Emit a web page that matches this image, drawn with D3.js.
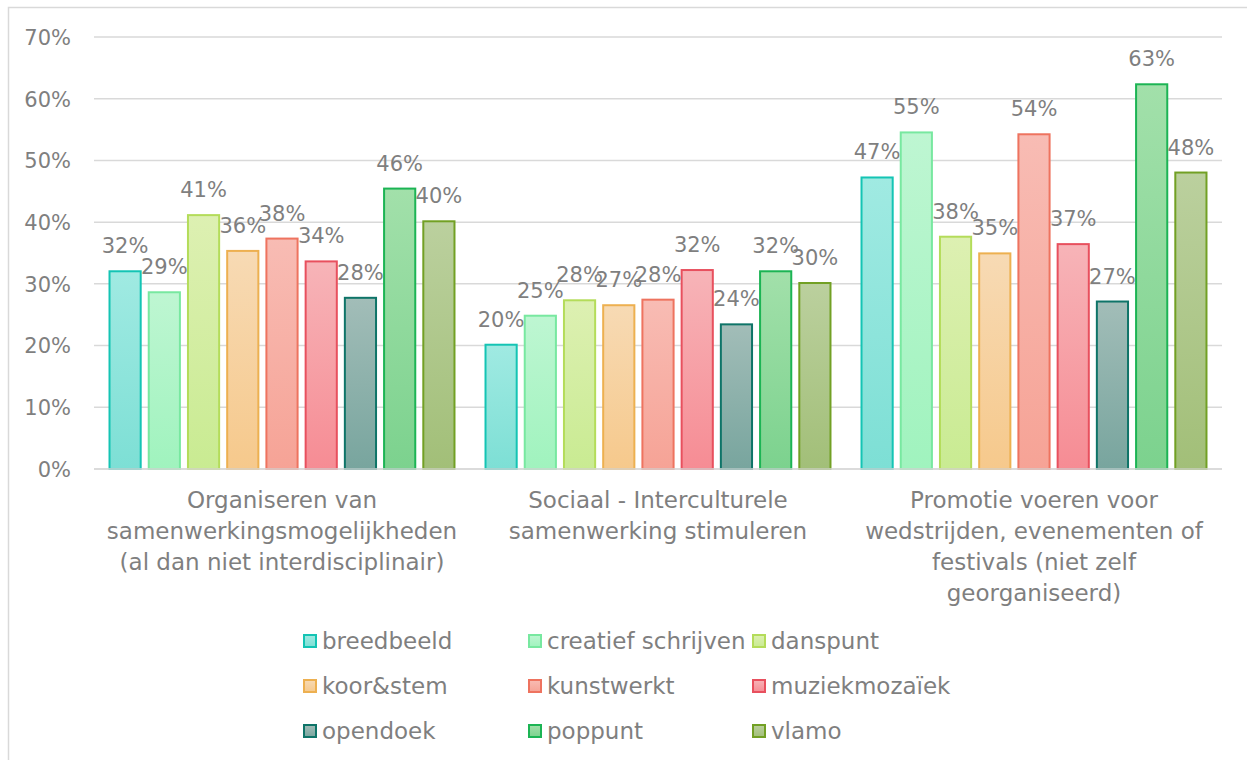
<!DOCTYPE html>
<html>
<head>
<meta charset="utf-8">
<script src="https://cdn.jsdelivr.net/npm/d3@7/dist/d3.min.js"></script>
<style>
html,body{margin:0;padding:0;background:#fff;}
svg{display:block;}
text{font-family:"DejaVu Sans",sans-serif;fill:#7f7f7f;}
</style>
</head>
<body>
<svg id="chart" width="1247" height="760"></svg>
<script>
const categories = ["cat1","cat2","cat3"];
const categoryLines = [
  ["Organiseren van","samenwerkingsmogelijkheden","(al dan niet interdisciplinair)"],
  ["Sociaal - Interculturele","samenwerking stimuleren"],
  ["Promotie voeren voor","wedstrijden, evenementen of","festivals (niet zelf","georganiseerd)"]
];
const seriesNames = ["breedbeeld","creatief schrijven","danspunt","koor&stem","kunstwerkt","muziekmozaïek","opendoek","poppunt","vlamo"];
const breedbeeld = [0.322, 0.203, 0.474];
const creatiefSchrijven = [0.288, 0.250, 0.547];
const danspunt = [0.413, 0.275, 0.378];
const koorStem = [0.355, 0.267, 0.351];
const kunstwerkt = [0.375, 0.276, 0.544];
const muziekmozaiek = [0.338, 0.324, 0.366];
const opendoek = [0.279, 0.236, 0.273];
const poppunt = [0.456, 0.322, 0.625];
const vlamo = [0.403, 0.303, 0.482];
const seriesValues = [breedbeeld, creatiefSchrijven, danspunt, koorStem, kunstwerkt, muziekmozaiek, opendoek, poppunt, vlamo];
const yTicks = [0, 0.1, 0.2, 0.3, 0.4, 0.5, 0.6, 0.7];
const strokeColors = ["#14C4B4","#78E8A0","#B4DC5A","#EDB050","#EE735F","#E8505E","#0E7468","#1CB454","#72A024"];
const topColors = ["#A0EAE2","#BEF6D2","#DDF0B2","#F7DAB4","#F8BCB4","#F7B4B8","#A2BDB8","#A2E0AA","#BBD09E"];
const bottomColors = ["#7DDFD5","#A0F3BE","#C9EB92","#F6C98C","#F6A396","#F68C94","#78A59E","#7CD28E","#A2BF78"];

const svg = d3.select("#chart");
const defs = svg.append("defs");
seriesNames.forEach((s,i)=>{
  const g = defs.append("linearGradient").attr("id","grad"+i)
    .attr("x1",0).attr("y1",0).attr("x2",0).attr("y2",1);
  g.append("stop").attr("offset","0%").attr("stop-color",topColors[i]);
  g.append("stop").attr("offset","100%").attr("stop-color",bottomColors[i]);
});

// outer border
svg.append("rect").attr("x",8.5).attr("y",7.5).attr("width",1260).attr("height",800)
  .attr("fill","none").attr("stroke","#d9d9d9").attr("stroke-width",1.5);

const y = d3.scaleLinear().domain([0,0.7]).range([469,37]);
const x0 = d3.scaleBand().domain(categories).range([94,1222]).padding(0);
const x1 = d3.scaleBand().domain(seriesNames).range([0,x0.bandwidth()]).paddingInner(0.154).paddingOuter(0.37);

// gridlines
svg.append("g").selectAll("line").data(yTicks).join("line")
  .attr("x1",94).attr("x2",1222)
  .attr("y1",d=>y(d)).attr("y2",d=>y(d))
  .attr("stroke","#d9d9d9").attr("stroke-width",1.5);

// y axis labels
const yAxis = d3.axisLeft(y).tickValues(yTicks).tickFormat(d3.format(".0%")).tickSize(0).tickPadding(0);
const ya = svg.append("g").attr("transform","translate(71,0)").call(yAxis);
ya.select(".domain").remove();
ya.selectAll("text").attr("font-size",21).attr("font-family","DejaVu Sans").attr("fill","#7f7f7f").attr("dy","0.35em");

// bars
const groups = svg.append("g").selectAll("g").data(categories).join("g")
  .attr("transform",d=>`translate(${x0(d)},0)`);
groups.each(function(c,ci){
  const g = d3.select(this);
  const data = seriesNames.map((s,si)=>({s,si,v:seriesValues[si][ci]}));
  g.selectAll("rect").data(data).join("rect")
    .attr("x",d=>x1(d.s)+1).attr("width",x1.bandwidth()-2)
    .attr("y",d=>y(d.v)+1).attr("height",d=>y(0)-y(d.v)-1)
    .attr("fill",d=>`url(#grad${d.si})`)
    .attr("stroke",d=>strokeColors[d.si]).attr("stroke-width",2);
  g.selectAll("text.lbl").data(data).join("text").attr("class","lbl")
    .attr("x",d=>x1(d.s)+x1.bandwidth()/2).attr("y",d=>y(d.v)-17)
    .attr("text-anchor","middle").attr("font-size",21)
    .text(d=>d3.format(".0%")(d.v));
});

// zero axis line on top
svg.append("line").attr("x1",94).attr("x2",1222).attr("y1",y(0)).attr("y2",y(0))
  .attr("stroke","#d9d9d9").attr("stroke-width",1.5);

// category labels
categories.forEach((c,ci)=>{
  const t = svg.append("text").attr("text-anchor","middle").attr("font-size",23);
  categoryLines[ci].forEach((line,li)=>{
    t.append("tspan").attr("x",x0(c)+x0.bandwidth()/2).attr("y",500+li*31).attr("dy","0.35em").text(line);
  });
});

// legend
const legCols = [303,528,752];
const legRows = [641,686,731];
const leg = svg.append("g").selectAll("g").data(seriesNames).join("g")
  .attr("transform",(d,i)=>`translate(${legCols[i%3]},${legRows[Math.floor(i/3)]})`);
leg.append("rect").attr("x",1).attr("y",-6).attr("width",12).attr("height",12)
  .attr("fill",(d,i)=>`url(#grad${i})`).attr("stroke",(d,i)=>strokeColors[i]).attr("stroke-width",2);
leg.append("text").attr("x",19).attr("y",0).attr("dy","0.35em").attr("font-size",23).text(d=>d);
</script>
</body>
</html>
